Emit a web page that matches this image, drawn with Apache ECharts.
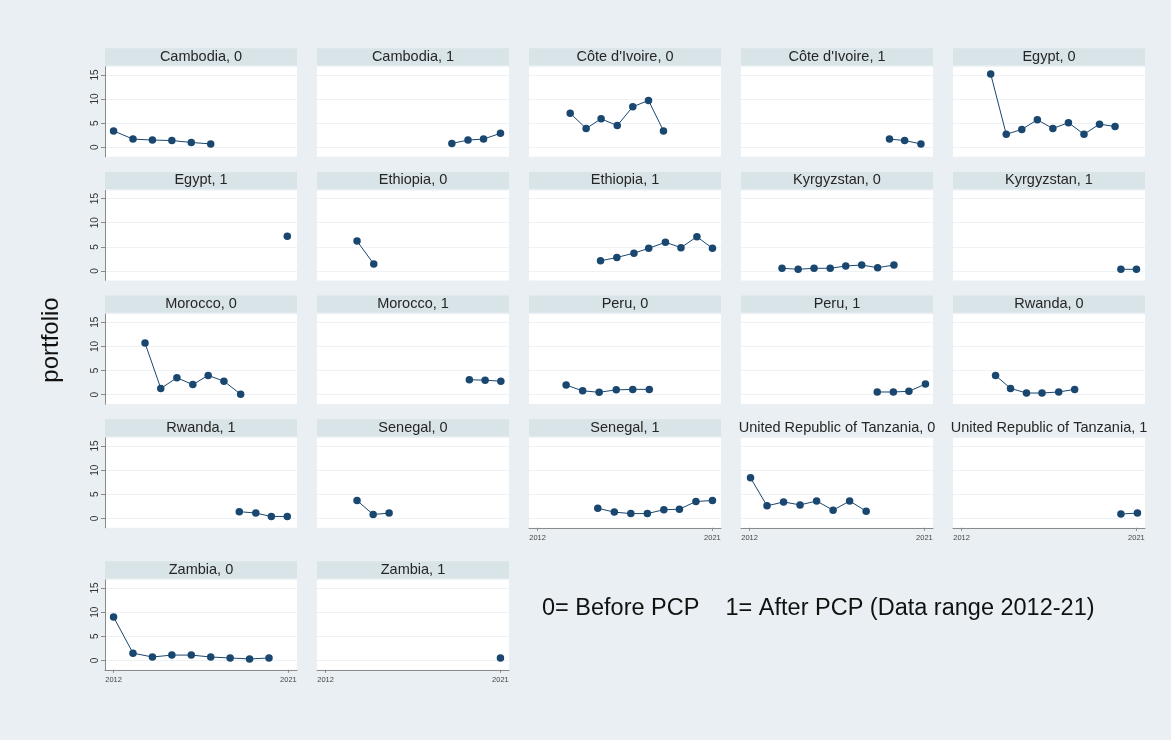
<!DOCTYPE html>
<html>
<head>
<meta charset="utf-8">
<script src="https://cdn.jsdelivr.net/npm/echarts@6/dist/echarts.min.js"></script>
<style>
  html, body { margin: 0; padding: 0; background: #e9eff2; }
  #chart { width: 1171px; height: 740px; }
</style>
</head>
<body>
<div id="chart"></div>
<script>
// Panel labels, five panels per row
const panelTitles = [
  'Cambodia, 0', 'Cambodia, 1', "Côte d'Ivoire, 0", "Côte d'Ivoire, 1", 'Egypt, 0',
  'Egypt, 1', 'Ethiopia, 0', 'Ethiopia, 1', 'Kyrgyzstan, 0', 'Kyrgyzstan, 1',
  'Morocco, 0', 'Morocco, 1', 'Peru, 0', 'Peru, 1', 'Rwanda, 0',
  'Rwanda, 1', 'Senegal, 0', 'Senegal, 1', 'United Republic of Tanzania, 0', 'United Republic of Tanzania, 1',
  'Zambia, 0', 'Zambia, 1'
];

// [year, portfolio] observations for each panel
const cambodia0 = [[2012, 3.4], [2013, 1.7], [2014, 1.5], [2015, 1.4], [2016, 1.0], [2017, 0.7]];
const cambodia1 = [[2018.5, 0.8], [2019.33, 1.5], [2020.13, 1.7], [2021, 2.9]];
const coteDIvoire0 = [[2013.68, 7.05], [2014.5, 3.9], [2015.27, 5.9], [2016.1, 4.5], [2016.9, 8.4], [2017.71, 9.7], [2018.48, 3.4]];
const coteDIvoire1 = [[2019.2, 1.7], [2019.98, 1.4], [2020.82, 0.7]];
const egypt0 = [[2013.5, 15.2], [2014.3, 2.7], [2015.1, 3.7], [2015.9, 5.7], [2016.7, 3.9], [2017.5, 5.1], [2018.3, 2.7], [2019.1, 4.8], [2019.9, 4.3]];
const egypt1 = [[2020.94, 7.2]];
const ethiopia0 = [[2013.62, 6.2], [2014.48, 1.45]];
const ethiopia1 = [[2015.24, 2.1], [2016.08, 2.8], [2016.96, 3.7], [2017.72, 4.7], [2018.58, 5.95], [2019.38, 4.84], [2020.2, 7.1], [2021.0, 4.7]];
const kyrgyzstan0 = [[2013.67, 0.56], [2014.5, 0.35], [2015.32, 0.56], [2016.15, 0.56], [2016.95, 1.04], [2017.77, 1.24], [2018.59, 0.68], [2019.43, 1.24]];
const kyrgyzstan1 = [[2020.2, 0.35], [2021.0, 0.35]];
const morocco0 = [[2013.62, 10.7], [2014.43, 1.3], [2015.26, 3.5], [2016.08, 2.1], [2016.87, 4.0], [2017.68, 2.8], [2018.54, 0.1]];
const morocco1 = [[2019.4, 3.1], [2020.21, 3.0], [2021.02, 2.8]];
const peru0 = [[2013.47, 2.0], [2014.32, 0.8], [2015.17, 0.5], [2016.05, 1.0], [2016.9, 1.1], [2017.75, 1.1]];
const peru1 = [[2018.57, 0.56], [2019.4, 0.56], [2020.2, 0.7], [2021.05, 2.2]];
const rwanda0 = [[2013.75, 4.0], [2014.52, 1.3], [2015.34, 0.35], [2016.14, 0.35], [2017.0, 0.56], [2017.82, 1.1]];
const rwanda1 = [[2018.47, 1.4], [2019.32, 1.1], [2020.12, 0.4], [2020.94, 0.4]];
const senegal0 = [[2013.62, 3.7], [2014.45, 0.8], [2015.27, 1.1]];
const senegal1 = [[2015.1, 2.1], [2015.95, 1.3], [2016.8, 1.0], [2017.65, 1.0], [2018.5, 1.8], [2019.3, 1.9], [2020.15, 3.5], [2021.0, 3.7]];
const tanzania0 = [[2012.05, 8.4], [2012.9, 2.6], [2013.75, 3.4], [2014.6, 2.8], [2015.45, 3.6], [2016.3, 1.7], [2017.15, 3.6], [2018.0, 1.5]];
const tanzania1 = [[2020.2, 0.9], [2021.05, 1.1]];
const zambia0 = [[2012, 9.0], [2013, 1.5], [2014, 0.7], [2015, 1.1], [2016, 1.1], [2017, 0.7], [2018, 0.5], [2019, 0.3], [2020, 0.5]];
const zambia1 = [[2021, 0.5]];

const panelData = [
  cambodia0, cambodia1, coteDIvoire0, coteDIvoire1, egypt0,
  egypt1, ethiopia0, ethiopia1, kyrgyzstan0, kyrgyzstan1,
  morocco0, morocco1, peru0, peru1, rwanda0,
  rwanda1, senegal0, senegal1, tanzania0, tanzania1,
  zambia0, zambia1
];

// Axis ticks
const yTicks = [0, 5, 10, 15];
const xTicks = [2012, 2021];

const yAxisTitle = 'portfolio';
const noteText = '0= Before PCP    1= After PCP (Data range 2012-21)';

// Layout of the panel grid
const COLS = 5;
const plotW = 192, plotH = 90;
const colLeft0 = 105, colStep = 212;
const rowTops = [66.7, 190.4, 314.1, 437.8, 579.8];
const stripH = 17, stripGap = 1.5;
const ink = '#1a476f';
const font = '"Liberation Sans", Arial, Helvetica, sans-serif';
const stripFont = '14.5px ' + font;

const N = panelTitles.length;

// width of a strip label, to leave the box off when the label spills past its panel
const measureCtx = document.createElement('canvas').getContext('2d');
function textWidth(str, f) { measureCtx.font = f; return measureCtx.measureText(str).width; }

// a panel shows x labels when nothing sits beneath it
function hasXAxis(i) { return i + COLS >= N; }

const grids = [], xAxes = [], yAxes = [], series = [], graphics = [];
for (let i = 0; i < N; i++) {
  const r = Math.floor(i / COLS), c = i % COLS;
  const left = colLeft0 + c * colStep, top = rowTops[r];
  grids.push({
    left: left, top: top, width: plotW, height: plotH,
    show: true, backgroundColor: '#ffffff', borderWidth: 0
  });
  const showX = hasXAxis(i);
  xAxes.push({
    type: 'value', gridIndex: i, min: 2011.56, max: 2021.44,
    axisLine: { show: showX, onZero: false, lineStyle: { color: '#8a8a8a', width: 1 } },
    axisTick: { show: showX, length: 3, customValues: xTicks, lineStyle: { color: '#8a8a8a' } },
    axisLabel: {
      show: showX, customValues: xTicks, fontSize: 7.5, color: '#444', margin: 6, fontFamily: font,
      formatter: v => String(v)
    },
    splitLine: { show: false }
  });
  const showY = c === 0;
  yAxes.push({
    type: 'value', gridIndex: i, min: -1.95, max: 16.7,
    axisLine: { show: showY, lineStyle: { color: '#8a8a8a', width: 1 } },
    axisTick: { show: showY, length: 4, customValues: yTicks, lineStyle: { color: '#8a8a8a' } },
    axisLabel: { show: showY, customValues: yTicks, rotate: 90, fontSize: 10, color: '#333', margin: 5, fontFamily: font },
    splitLine: { show: true, lineStyle: { color: '#eef2f4', width: 1 } }
  });
  series.push({
    type: 'line', xAxisIndex: i, yAxisIndex: i, data: panelData[i],
    symbol: 'circle', symbolSize: 7.5, showSymbol: true,
    itemStyle: { color: ink }, lineStyle: { color: ink, width: 1 },
    animation: false, silent: true
  });
  // title strip above each panel
  if (textWidth(panelTitles[i], stripFont) <= plotW) {
    graphics.push({
      type: 'rect', shape: { x: left, y: top - stripGap - stripH, width: plotW, height: stripH },
      style: { fill: '#d9e4e9' }, silent: true
    });
  }
  graphics.push({
    type: 'text', x: left + plotW / 2, y: top - stripGap - stripH / 2,
    style: { text: panelTitles[i], fill: '#262626', font: stripFont, align: 'center', verticalAlign: 'middle' },
    silent: true
  });
}

graphics.push({
  type: 'text', x: 51, y: 340, rotation: Math.PI / 2,
  style: { text: yAxisTitle, fill: '#111', font: '24px ' + font, align: 'center', verticalAlign: 'middle' },
  silent: true
});
graphics.push({
  type: 'text', x: 542, y: 609,
  style: { text: noteText, fill: '#111', font: '23.5px ' + font, align: 'left', verticalAlign: 'middle' },
  silent: true
});

const chart = echarts.init(document.getElementById('chart'), null, { renderer: 'canvas' });
chart.setOption({
  backgroundColor: '#e9eff2',
  animation: false,
  grid: grids, xAxis: xAxes, yAxis: yAxes, series: series,
  graphic: { elements: graphics }
});
</script>
</body>
</html>
